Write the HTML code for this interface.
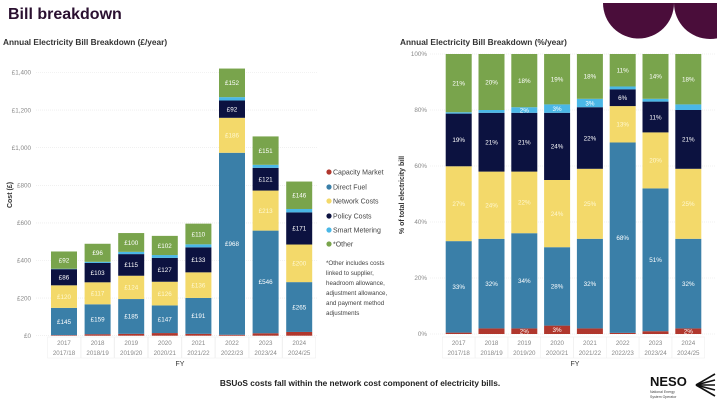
<!DOCTYPE html>
<html><head><meta charset="utf-8"><style>
html,body{margin:0;padding:0;background:#fff;}
body{width:720px;height:405px;overflow:hidden;position:relative;font-family:"Liberation Sans",sans-serif;}
</style></head><body>
<svg id="s" width="720" height="405" viewBox="0 0 720 405" xmlns="http://www.w3.org/2000/svg" font-family="Liberation Sans, sans-serif">
<defs><clipPath id="cp"><rect x="0" y="0" width="717" height="405"/></clipPath></defs>
<path d="M603,3 A35.5,35.5 0 0 0 674,3 Z" fill="#4a0d3a"/>
<path d="M674,3 A36,36 0 0 0 746,3 Z" fill="#4a0d3a" clip-path="url(#cp)"/>
<text x="8" y="19" font-size="16" font-weight="bold" fill="#2a1030">Bill breakdown</text>
<text x="3" y="45" font-size="8.3" font-weight="bold" fill="#333">Annual Electricity Bill Breakdown (£/year)</text>
<text x="400" y="45" font-size="8.3" font-weight="bold" fill="#333">Annual Electricity Bill Breakdown (%/year)</text>
<text transform="translate(12,195) rotate(-90)" font-size="7" font-weight="bold" fill="#333" text-anchor="middle">Cost (£)</text>
<text transform="translate(404,195) rotate(-90)" font-size="7" font-weight="bold" fill="#333" text-anchor="middle">% of total electricity bill</text>
<text x="180" y="366" font-size="7" fill="#333" text-anchor="middle">FY</text>
<text x="575" y="366" font-size="7" fill="#333" text-anchor="middle">FY</text>
<g font-size="7" fill="#444">
<circle cx="329" cy="172" r="2.6" fill="#b0372d"/><text x="333" y="174.5">Capacity Market</text>
<circle cx="329" cy="187" r="2.6" fill="#3a7fa8"/><text x="333" y="189.5">Direct Fuel</text>
<circle cx="329" cy="201" r="2.6" fill="#f3d96a"/><text x="333" y="203.5">Network Costs</text>
<circle cx="329" cy="216" r="2.6" fill="#0c1240"/><text x="333" y="218.5">Policy Costs</text>
<circle cx="329" cy="230" r="2.6" fill="#4ab7e6"/><text x="333" y="232.5">Smart Metering</text>
<circle cx="329" cy="244" r="2.6" fill="#79a44c"/><text x="333" y="246.5">*Other</text>
</g>
<g font-size="6.2" fill="#444">
<text x="326" y="265">*Other includes costs</text>
<text x="326" y="275">linked to supplier,</text>
<text x="326" y="285">headroom allowance,</text>
<text x="326" y="295">adjustment allowance,</text>
<text x="326" y="305">and payment method</text>
<text x="326" y="315">adjustments</text>
</g>
<text x="360" y="386" font-size="8.3" font-weight="bold" fill="#222" text-anchor="middle">BSUoS costs fall within the network cost component of electricity bills.</text>
<text x="650" y="386" font-size="13" font-weight="bold" fill="#111">NESO</text>
<text x="650" y="393" font-size="3.5" fill="#444">National Energy</text>
<text x="650" y="398" font-size="3.5" fill="#444">System Operator</text>
<g stroke="#111" stroke-width="1.6"><line x1="696" y1="385" x2="715" y2="374"/><line x1="696" y1="385" x2="715" y2="380"/><line x1="696" y1="385" x2="715" y2="385"/><line x1="696" y1="385" x2="715" y2="390"/><line x1="696" y1="385" x2="715" y2="396"/></g>
<g id="c"></g>
</svg>
<script>
var C=["#b0372d","#3a7fa8","#f3d96a","#0c1240","#4ab7e6","#79a44c"];
var TC=["#fff","#fff","#fff8d0","#fff","#fff","#fff"];
var D=[[3,145,120,86,2,92],[8,159,117,103,6,96],[10,185,124,115,12,100],[14,147,126,127,15,102],[10,191,136,133,16,110],[5,968,186,92,18,152],[13,546,213,121,16,151],[20,265,200,171,18,146]];
var P=[[0.5,33,27,19,0.5,21],[2,32,24,21,1,20],[2,34,22,21,2,19],[3,28,24,24,3,18],[2,32,25,22,3,16],[0.4,68,13,6,1,11.6],[1,51,20,11,1,16],[2,32,25,21,2,18]];
var PL=[[0,33,27,19,0,21],[0,32,24,21,0,20],[2,34,22,21,2,18],[3,28,24,24,3,19],[0,32,25,22,3,18],[0,68,13,6,0,11],[0,51,20,11,0,14],[2,32,25,21,0,18]];
var Y=["2017","2018","2019","2020","2021","2022","2023","2024"],F=["2017/18","2018/19","2019/20","2020/21","2021/22","2022/23","2023/24","2024/25"];
var h='';
var y0=335.7,k=37.6/200;
for(var v=0;v<=1400;v+=200){var y=y0-v*k;h+='<line x1="36" x2="318" y1="'+y+'" y2="'+y+'" stroke="#e6e6e6" stroke-width="0.6" stroke-dasharray="1,1"/>';h+='<text x="31" y="'+(y+2.2)+'" font-size="6.3" fill="#888" text-anchor="end">£'+(v>=1000?v.toString().replace(/(\d)(\d{3})$/,"$1,$2"):v)+'</text>';}
var ry0=334,rk=2.8;
for(var v=0;v<=100;v+=20){var y=ry0-v*rk;h+='<line x1="430" x2="716" y1="'+y+'" y2="'+y+'" stroke="#e6e6e6" stroke-width="0.6" stroke-dasharray="1,1"/>';h+='<text x="427" y="'+(y+2.2)+'" font-size="6.3" fill="#888" text-anchor="end">'+v+'%</text>';}
for(var i=0;i<8;i++){
 var cx=64+i*33.6,x=cx-13,y=y0;
 for(var j=0;j<6;j++){var hh=D[i][j]*k;y-=hh;h+='<rect x="'+x+'" y="'+y+'" width="26" height="'+hh+'" fill="'+C[j]+'"/>';
  if(j>=1&&j!=4)h+='<text x="'+cx+'" y="'+(y+hh/2+2.3)+'" font-size="6.3" fill="'+TC[j]+'" text-anchor="middle">£'+D[i][j]+'</text>';}
 h+='<rect x="'+(cx-16.5)+'" y="337" width="33" height="21" fill="none" stroke="#eee" stroke-width="0.5"/>';
 h+='<text x="'+cx+'" y="345" font-size="6.2" fill="#888" text-anchor="middle">'+Y[i]+'</text><text x="'+cx+'" y="355" font-size="6.2" fill="#888" text-anchor="middle">'+F[i]+'</text>';
 var rx=458.7+i*32.8;x=rx-13;y=ry0;var s=0;for(j=0;j<6;j++)s+=P[i][j];
 for(j=0;j<6;j++){var hh=P[i][j]/s*100*rk;y-=hh;h+='<rect x="'+x+'" y="'+y+'" width="26" height="'+hh+'" fill="'+C[j]+'"/>';
  if(PL[i][j])h+='<text x="'+rx+'" y="'+(y+hh/2+2.3)+'" font-size="6.3" fill="'+TC[j]+'" text-anchor="middle">'+PL[i][j]+'%</text>';}
 h+='<rect x="'+(rx-16.4)+'" y="337" width="32.8" height="21" fill="none" stroke="#eee" stroke-width="0.5"/>';
 h+='<text x="'+rx+'" y="345" font-size="6.2" fill="#888" text-anchor="middle">'+Y[i]+'</text><text x="'+rx+'" y="355" font-size="6.2" fill="#888" text-anchor="middle">'+F[i]+'</text>';
}
document.getElementById('c').innerHTML=h;
</script>
</body></html>
